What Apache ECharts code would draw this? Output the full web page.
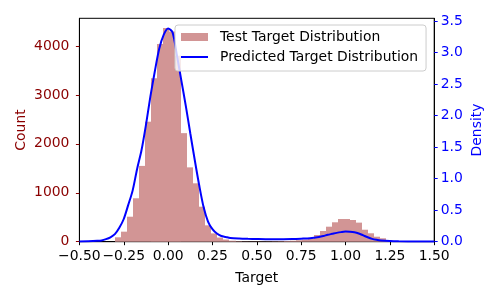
<!DOCTYPE html>
<html>
<head>
<meta charset="utf-8">
<script src="https://cdn.jsdelivr.net/npm/echarts@6/dist/echarts.min.js"></script>
<style>html,body{margin:0;padding:0;background:#fff;}#c{width:500px;height:300px;}</style>
</head>
<body>
<div id="c"></div>
<script>
// Histogram of test targets
const binStart = -0.30;
const binWidth = 0.034;
const binCounts = [90, 205, 511, 888, 1550, 2454, 3341, 4043, 4370, 4300,
  3800, 2220, 1520, 1194, 716, 335, 170, 85, 45, 20,
  10, 6, 5, 5, 5, 6, 8, 10, 14, 20,
  30, 45, 55, 137, 219, 307, 397, 464, 464, 444,
  390, 245, 172, 102, 70, 30, 12];
// KDE of predictions
const kdeX = [-0.5, -0.45, -0.4, -0.375, -0.35, -0.325, -0.3, -0.275, -0.25, -0.225,
  -0.2, -0.175, -0.15, -0.125, -0.1, -0.075, -0.05, -0.025, 0.0, 0.025,
  0.05, 0.075, 0.1, 0.125, 0.15, 0.175, 0.2, 0.225, 0.25, 0.275,
  0.3, 0.325, 0.35, 0.4, 0.45, 0.5, 0.55, 0.6, 0.65, 0.7,
  0.75, 0.8, 0.85, 0.875, 0.9, 0.925, 0.95, 0.975, 1.0, 1.025,
  1.05, 1.075, 1.1, 1.125, 1.15, 1.175, 1.2, 1.25, 1.3, 1.4, 1.5];
const kdeY = [0.005, 0.008, 0.014, 0.02, 0.04, 0.07, 0.12, 0.22, 0.36, 0.58,
  0.81, 1.15, 1.45, 1.85, 2.30, 2.70, 3.06, 3.28, 3.38, 3.32,
  2.95, 2.55, 2.15, 1.72, 1.30, 0.90, 0.55, 0.32, 0.20, 0.13,
  0.09, 0.075, 0.06, 0.05, 0.045, 0.042, 0.04, 0.04, 0.04, 0.042,
  0.048, 0.056, 0.075, 0.09, 0.11, 0.125, 0.14, 0.152, 0.16, 0.158,
  0.15, 0.13, 0.10, 0.07, 0.045, 0.03, 0.02, 0.01, 0.006, 0.004, 0.003];
const xTicks = [-0.5, -0.25, 0, 0.25, 0.5, 0.75, 1.0, 1.25, 1.5];
const countTicks = [0, 1000, 2000, 3000, 4000];
const densityTicks = [0, 0.5, 1.0, 1.5, 2.0, 2.5, 3.0, 3.5];

const histData = binCounts.map((c, i) => [binStart + i * binWidth, binStart + (i + 1) * binWidth, c]);
const kdeData = kdeX.map((x, i) => [x, kdeY[i]]);

const FONT = 'DejaVu Sans';
const FS = 13.9;
const BAR = 'rgb(210,149,149)';
const chart = echarts.init(document.getElementById('c'), null, {renderer: 'canvas'});
chart.setOption({
  animation: false,
  textStyle: {fontFamily: FONT},
  grid: {left: 79.4, right: 65.8, top: 18.3, bottom: 58.3, show: true, borderColor: '#000', borderWidth: 1, backgroundColor: 'transparent'},
  legend: {
    orient: 'vertical', left: 175, top: 25,
    padding: [4, 8, 6, 6], itemGap: 4, itemWidth: 27, itemHeight: 8,
    backgroundColor: 'rgba(255,255,255,0.8)', borderColor: '#cccccc', borderWidth: 1, borderRadius: 3,
    textStyle: {fontFamily: FONT, fontSize: FS, color: '#000', lineHeight: 16, padding: [0, 0, 0, 7]},
    data: [{name: 'Test Target Distribution', icon: 'rect'},
           {name: 'Predicted Target Distribution', icon: 'path://M0,0h27v2H0z'}]
  },
  xAxis: {
    type: 'value', min: -0.5, max: 1.5, interval: 0.25,
    name: 'Target', nameLocation: 'middle', nameGap: 30, nameMoveOverlap: false,
    nameTextStyle: {fontFamily: FONT, fontSize: FS, color: '#000'},
    axisLine: {show: true, onZero: false, lineStyle: {color: '#000', width: 1}},
    axisTick: {show: true, inside: false, length: 3.5, lineStyle: {color: '#000'}, customValues: xTicks},
    axisLabel: {fontFamily: FONT, fontSize: FS, color: '#000', margin: 8, customValues: xTicks,
      formatter: v => (v < 0 ? '\u2212' : '') + Math.abs(v).toFixed(2)},
    splitLine: {show: false}
  },
  yAxis: [{
    type: 'value', min: 0, max: 4568, position: 'left',
    name: 'Count', nameLocation: 'middle', nameGap: 51, nameRotate: 90, nameMoveOverlap: false,
    nameTextStyle: {fontFamily: FONT, fontSize: FS, color: '#8b0000'},
    axisLine: {show: true, onZero: false, lineStyle: {color: '#000', width: 1}},
    axisTick: {show: true, length: 3.5, lineStyle: {color: '#8b0000'}, customValues: countTicks},
    axisLabel: {fontFamily: FONT, fontSize: FS, color: '#8b0000', margin: 10, customValues: countTicks,
      formatter: v => String(v)},
    splitLine: {show: false}
  }, {
    type: 'value', min: 0, max: 3.543, position: 'right',
    name: 'Density', nameLocation: 'middle', nameGap: 36, nameRotate: 90, nameMoveOverlap: false,
    nameTextStyle: {fontFamily: FONT, fontSize: FS, color: '#0000ff'},
    axisLine: {show: true, onZero: false, lineStyle: {color: '#000', width: 1}},
    axisTick: {show: true, length: 3.5, lineStyle: {color: '#0000ff'}, customValues: densityTicks},
    axisLabel: {fontFamily: FONT, fontSize: FS, color: '#0000ff', margin: 6.5, customValues: densityTicks,
      formatter: v => v.toFixed(1)},
    splitLine: {show: false}
  }],
  series: [{
    name: 'Test Target Distribution', type: 'custom', xAxisIndex: 0, yAxisIndex: 0,
    itemStyle: {color: BAR},
    encode: {x: [0, 1], y: 2},
    data: histData,
    renderItem: function (params, api) {
      const p0 = api.coord([api.value(0), api.value(2)]);
      const p1 = api.coord([api.value(1), 0]);
      const x0 = Math.round(p0[0]), x1 = Math.round(p1[0]);
      return {type: 'rect', shape: {x: x0, y: p0[1], width: x1 - x0, height: p1[1] - p0[1]},
        style: {fill: BAR}};
    },
    z: 1
  }, {
    name: 'Predicted Target Distribution', type: 'line', xAxisIndex: 0, yAxisIndex: 1,
    data: kdeData, smooth: 0.3, symbol: 'none', showSymbol: false,
    lineStyle: {color: '#0000ff', width: 2}, itemStyle: {color: '#0000ff'},
    z: 3
  }]
});
</script>
</body>
</html>
